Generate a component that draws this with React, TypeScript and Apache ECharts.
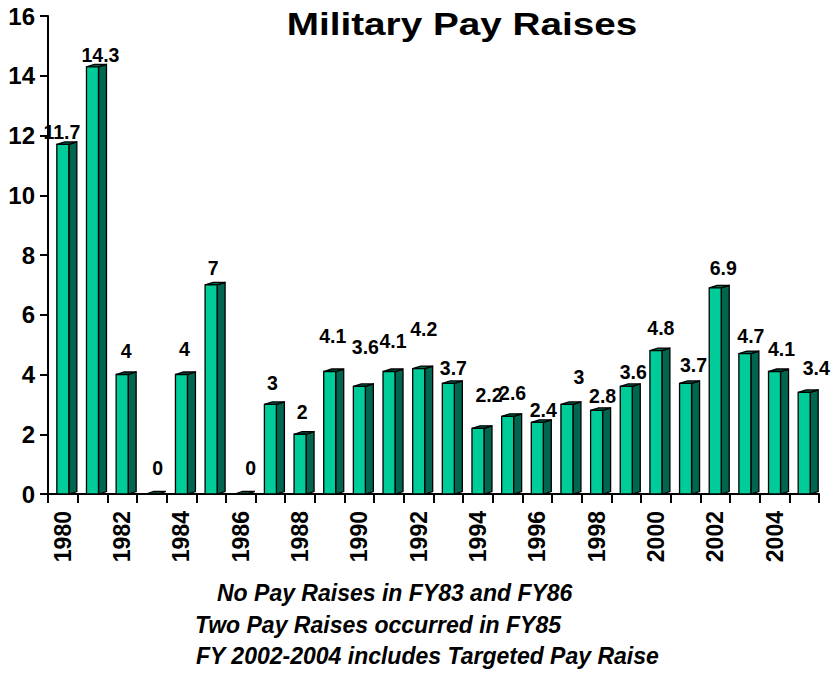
import React, { useEffect, useRef } from "react";
import * as echarts from "echarts";

const years = [
  "1980", "1981", "1982", "1983", "1984", "1985", "1986", "1987", "1988",
  "1989", "1990", "1991", "1992", "1993", "1994", "1995", "1996", "1997",
  "1998", "1999", "2000", "2001", "2002", "2003", "2004", "2005",
];
const raises = [
  11.7, 14.3, 4, 0, 4, 7, 0, 3, 2, 4.1, 3.6, 4.1, 4.2, 3.7, 2.2, 2.6, 2.4, 3,
  2.8, 3.6, 4.8, 3.7, 6.9, 4.7, 4.1, 3.4,
];
// label placement relative to each bar top (pixels): lift above bar, shift to right
const labelLift = [
  12, 12, 24, 26, 26, 17, 26, 21, 22, 36, 39, 31, 40, 15, 33, 23, 12, 27, 14,
  14, 23, 18, 20, 18, 23, 24,
];
const labelShift = [
  -1, 8, 4, 6, 3, 2, 10, 2, 2, 3, 6, 4, 5, 5, 11, 5, 6, 12, 6, 7, 5, 8, 8, 6,
  7, 12,
];
const yTicks = { min: 0, max: 16, interval: 2 };
const titleText = "Military Pay Raises";
const notes = [
  "No Pay Raises in FY83 and FY86",
  "Two Pay Raises occurred in FY85",
  "FY 2002-2004 includes Targeted Pay Raise",
];

const FONT = "'Liberation Sans', Arial, Helvetica, sans-serif";
const FRONT = "#00CC99";
const SIDE = "#006650";

export default function App() {
  const ref = useRef<HTMLDivElement>(null);

  useEffect(() => {
    if (!ref.current) return;
    const chart = echarts.init(ref.current, null, { renderer: "svg" });

    const noteStyle = (t: string) => ({
      text: t,
      fill: "#000",
      fontSize: 23,
      fontWeight: "bold",
      fontStyle: "italic",
      fontFamily: FONT,
      align: "left",
      verticalAlign: "middle",
    });

    const option: any = {
      animation: false,
      backgroundColor: "#ffffff",
      grid: { left: 48, right: 15, top: 16, bottom: 183, containLabel: false },
      xAxis: {
        type: "category",
        data: years,
        boundaryGap: true,
        axisLine: { show: true, lineStyle: { color: "#000", width: 2 } },
        axisTick: {
          show: true,
          interval: 0,
          alignWithLabel: false,
          length: 9,
          lineStyle: { color: "#000", width: 2 },
        },
        axisLabel: {
          interval: 1,
          rotate: 90,
          margin: 17,
          color: "#000",
          fontSize: 23,
          fontWeight: "bold",
          fontFamily: FONT,
        },
        splitLine: { show: false },
      },
      yAxis: {
        type: "value",
        min: yTicks.min,
        max: yTicks.max,
        interval: yTicks.interval,
        axisLine: { show: true, lineStyle: { color: "#000", width: 2 } },
        axisTick: {
          show: true,
          inside: false,
          length: 8,
          lineStyle: { color: "#000", width: 2 },
        },
        axisLabel: {
          margin: 13,
          color: "#000",
          fontSize: 24,
          fontWeight: "bold",
          fontFamily: FONT,
        },
        splitLine: { show: false },
      },
      series: [
        {
          type: "custom",
          encode: { x: 0, y: 1 },
          clip: false,
          data: raises.map((v, i) => [i, v]),
          renderItem: (params: any, api: any) => {
            const i = api.value(0);
            const v = api.value(1);
            const base = api.coord([i, 0]);
            const top = api.coord([i, v]);
            const cx = top[0];
            const fw = 12;
            const dx = 8;
            const dy = -2.5;
            const l = cx - fw / 2;
            const r = cx + fw / 2;
            const ty = top[1];
            const by = base[1];
            return {
              type: "group",
              children: [
                {
                  type: "polygon",
                  shape: {
                    points: [
                      [r, ty],
                      [r + dx, ty + dy],
                      [r + dx, by + dy],
                      [r, by],
                    ],
                  },
                  style: { fill: SIDE, stroke: "#000", lineWidth: 1.3 },
                },
                {
                  type: "polygon",
                  shape: {
                    points: [
                      [l, ty],
                      [l + dx, ty + dy],
                      [r + dx, ty + dy],
                      [r, ty],
                    ],
                  },
                  style: { fill: SIDE, stroke: "#000", lineWidth: 1.3 },
                },
                {
                  type: "rect",
                  shape: { x: l, y: ty, width: fw, height: by - ty },
                  style: { fill: FRONT, stroke: "#000", lineWidth: 1.3 },
                },
                {
                  type: "text",
                  x: cx + labelShift[i],
                  y: ty - labelLift[i],
                  z2: 10,
                  style: {
                    text: String(v),
                    fill: "#000",
                    fontSize: 19.5,
                    fontWeight: "bold",
                    fontFamily: FONT,
                    align: "center",
                    verticalAlign: "middle",
                  },
                },
              ],
            };
          },
        },
      ],
      graphic: [
        {
          type: "text",
          x: 462,
          y: 24,
          scaleX: 1.21,
          style: {
            text: titleText,
            fill: "#000",
            fontSize: 32,
            fontWeight: "bold",
            fontFamily: FONT,
            align: "center",
            verticalAlign: "middle",
          },
        },
        { type: "text", x: 217, y: 593, style: noteStyle(notes[0]) },
        { type: "text", x: 195, y: 625, style: noteStyle(notes[1]) },
        { type: "text", x: 196, y: 656, style: noteStyle(notes[2]) },
      ],
    };

    chart.setOption(option);
    return () => {
      chart.dispose();
    };
  }, []);

  return (
    <div
      ref={ref}
      style={{ position: "fixed", left: 0, top: 0, width: 834, height: 677 }}
    />
  );
}
